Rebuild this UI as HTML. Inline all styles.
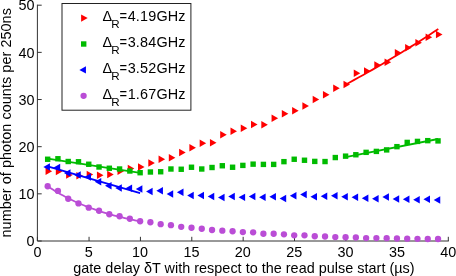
<!DOCTYPE html>
<html><head><meta charset="utf-8"><title>chart</title>
<style>
html,body{margin:0;padding:0;background:#fff;}
svg{display:block;will-change:transform;font-family:"Liberation Sans",sans-serif;fill:#000;}
</style></head><body>
<svg width="456" height="276" viewBox="0 0 456 276">
<rect width="456" height="276" fill="#fff"/>
<path d="M37.4 4.7V241.0H448.8" fill="none" stroke="#333" stroke-width="1"/>
<path d="M37.40 241.0v-4.2" stroke="#333" stroke-width="1"/>
<path d="M89.06 241.0v-4.2" stroke="#333" stroke-width="1"/>
<path d="M140.43 241.0v-4.2" stroke="#333" stroke-width="1"/>
<path d="M191.79 241.0v-4.2" stroke="#333" stroke-width="1"/>
<path d="M243.15 241.0v-4.2" stroke="#333" stroke-width="1"/>
<path d="M294.51 241.0v-4.2" stroke="#333" stroke-width="1"/>
<path d="M345.88 241.0v-4.2" stroke="#333" stroke-width="1"/>
<path d="M397.24 241.0v-4.2" stroke="#333" stroke-width="1"/>
<path d="M448.30 241.0v-4.2" stroke="#333" stroke-width="1"/>
<path d="M37.4 241.00h4.3" stroke="#333" stroke-width="1"/>
<path d="M37.4 193.84h4.3" stroke="#333" stroke-width="1"/>
<path d="M37.4 146.68h4.3" stroke="#333" stroke-width="1"/>
<path d="M37.4 99.52h4.3" stroke="#333" stroke-width="1"/>
<path d="M37.4 52.36h4.3" stroke="#333" stroke-width="1"/>
<path d="M37.4 5.20h4.3" stroke="#333" stroke-width="1"/>

<path d="M45.57 167.55L52.12 171.25L45.57 174.95Z" fill="#ff0000"/>
<path d="M55.84 167.80L62.39 171.50L55.84 175.20Z" fill="#ff0000"/>
<path d="M66.12 171.30L72.67 175.00L66.12 178.70Z" fill="#ff0000"/>
<path d="M76.39 172.05L82.94 175.75L76.39 179.45Z" fill="#ff0000"/>
<path d="M86.66 170.80L93.21 174.50L86.66 178.20Z" fill="#ff0000"/>
<path d="M96.94 171.55L103.48 175.25L96.94 178.95Z" fill="#ff0000"/>
<path d="M107.21 170.80L113.76 174.50L107.21 178.20Z" fill="#ff0000"/>
<path d="M117.48 167.55L124.03 171.25L117.48 174.95Z" fill="#ff0000"/>
<path d="M127.75 164.80L134.30 168.50L127.75 172.20Z" fill="#ff0000"/>
<path d="M138.03 163.30L144.58 167.00L138.03 170.70Z" fill="#ff0000"/>
<path d="M148.30 159.30L154.85 163.00L148.30 166.70Z" fill="#ff0000"/>
<path d="M158.57 155.55L165.12 159.25L158.57 162.95Z" fill="#ff0000"/>
<path d="M168.84 154.05L175.39 157.75L168.84 161.45Z" fill="#ff0000"/>
<path d="M179.12 148.80L185.67 152.50L179.12 156.20Z" fill="#ff0000"/>
<path d="M189.39 144.05L195.94 147.75L189.39 151.45Z" fill="#ff0000"/>
<path d="M199.66 139.55L206.21 143.25L199.66 146.95Z" fill="#ff0000"/>
<path d="M209.93 139.05L216.48 142.75L209.93 146.45Z" fill="#ff0000"/>
<path d="M220.21 131.05L226.76 134.75L220.21 138.45Z" fill="#ff0000"/>
<path d="M230.48 127.55L237.03 131.25L230.48 134.95Z" fill="#ff0000"/>
<path d="M240.75 124.55L247.30 128.25L240.75 131.95Z" fill="#ff0000"/>
<path d="M251.02 120.80L257.57 124.50L251.02 128.20Z" fill="#ff0000"/>
<path d="M261.30 121.05L267.85 124.75L261.30 128.45Z" fill="#ff0000"/>
<path d="M271.57 114.55L278.12 118.25L271.57 121.95Z" fill="#ff0000"/>
<path d="M281.84 110.05L288.39 113.75L281.84 117.45Z" fill="#ff0000"/>
<path d="M292.11 107.05L298.66 110.75L292.11 114.45Z" fill="#ff0000"/>
<path d="M302.38 102.30L308.94 106.00L302.38 109.70Z" fill="#ff0000"/>
<path d="M312.66 95.80L319.21 99.50L312.66 103.20Z" fill="#ff0000"/>
<path d="M322.93 91.05L329.48 94.75L322.93 98.45Z" fill="#ff0000"/>
<path d="M333.20 84.55L339.75 88.25L333.20 91.95Z" fill="#ff0000"/>
<path d="M343.48 80.80L350.03 84.50L343.48 88.20Z" fill="#ff0000"/>
<path d="M353.75 69.55L360.30 73.25L353.75 76.95Z" fill="#ff0000"/>
<path d="M364.02 67.30L370.57 71.00L364.02 74.70Z" fill="#ff0000"/>
<path d="M374.29 61.30L380.84 65.00L374.29 68.70Z" fill="#ff0000"/>
<path d="M384.56 58.55L391.11 62.25L384.56 65.95Z" fill="#ff0000"/>
<path d="M394.84 49.05L401.39 52.75L394.84 56.45Z" fill="#ff0000"/>
<path d="M405.11 44.05L411.66 47.75L405.11 51.45Z" fill="#ff0000"/>
<path d="M415.38 39.05L421.93 42.75L415.38 46.45Z" fill="#ff0000"/>
<path d="M425.65 33.55L432.20 37.25L425.65 40.95Z" fill="#ff0000"/>
<path d="M435.93 30.80L442.48 34.50L435.93 38.20Z" fill="#ff0000"/>
<polyline points="344.40,85.20 349.09,82.67 353.79,80.12 358.48,77.54 363.18,74.92 367.88,72.28 372.57,69.60 377.26,66.89 381.96,64.16 386.65,61.39 391.35,58.60 396.05,55.77 400.74,52.92 405.44,50.04 410.13,47.12 414.82,44.17 419.52,41.20 424.22,38.20 428.91,35.16 433.61,32.10 438.30,29.00" fill="none" stroke="#ff0000" stroke-width="1.8" stroke-linejoin="round"/>
<rect x="44.97" y="156.55" width="5.40" height="5.40" fill="#00bb00"/>
<rect x="55.24" y="156.05" width="5.40" height="5.40" fill="#00bb00"/>
<rect x="65.52" y="158.80" width="5.40" height="5.40" fill="#00bb00"/>
<rect x="75.79" y="159.05" width="5.40" height="5.40" fill="#00bb00"/>
<rect x="86.06" y="161.55" width="5.40" height="5.40" fill="#00bb00"/>
<rect x="96.33" y="164.30" width="5.40" height="5.40" fill="#00bb00"/>
<rect x="106.61" y="165.55" width="5.40" height="5.40" fill="#00bb00"/>
<rect x="116.88" y="166.30" width="5.40" height="5.40" fill="#00bb00"/>
<rect x="127.15" y="168.30" width="5.40" height="5.40" fill="#00bb00"/>
<rect x="137.43" y="170.00" width="5.40" height="5.40" fill="#00bb00"/>
<rect x="147.70" y="169.30" width="5.40" height="5.40" fill="#00bb00"/>
<rect x="157.97" y="169.05" width="5.40" height="5.40" fill="#00bb00"/>
<rect x="168.24" y="166.30" width="5.40" height="5.40" fill="#00bb00"/>
<rect x="178.52" y="166.55" width="5.40" height="5.40" fill="#00bb00"/>
<rect x="188.79" y="164.55" width="5.40" height="5.40" fill="#00bb00"/>
<rect x="199.06" y="166.30" width="5.40" height="5.40" fill="#00bb00"/>
<rect x="209.33" y="164.80" width="5.40" height="5.40" fill="#00bb00"/>
<rect x="219.61" y="163.05" width="5.40" height="5.40" fill="#00bb00"/>
<rect x="229.88" y="164.55" width="5.40" height="5.40" fill="#00bb00"/>
<rect x="240.15" y="162.70" width="5.40" height="5.40" fill="#00bb00"/>
<rect x="250.42" y="161.45" width="5.40" height="5.40" fill="#00bb00"/>
<rect x="260.70" y="161.70" width="5.40" height="5.40" fill="#00bb00"/>
<rect x="270.97" y="161.70" width="5.40" height="5.40" fill="#00bb00"/>
<rect x="281.24" y="158.95" width="5.40" height="5.40" fill="#00bb00"/>
<rect x="291.51" y="156.55" width="5.40" height="5.40" fill="#00bb00"/>
<rect x="301.79" y="157.55" width="5.40" height="5.40" fill="#00bb00"/>
<rect x="312.06" y="158.70" width="5.40" height="5.40" fill="#00bb00"/>
<rect x="322.33" y="158.85" width="5.40" height="5.40" fill="#00bb00"/>
<rect x="332.60" y="154.85" width="5.40" height="5.40" fill="#00bb00"/>
<rect x="342.88" y="153.45" width="5.40" height="5.40" fill="#00bb00"/>
<rect x="353.15" y="152.05" width="5.40" height="5.40" fill="#00bb00"/>
<rect x="363.42" y="149.65" width="5.40" height="5.40" fill="#00bb00"/>
<rect x="373.69" y="148.70" width="5.40" height="5.40" fill="#00bb00"/>
<rect x="383.96" y="147.20" width="5.40" height="5.40" fill="#00bb00"/>
<rect x="394.24" y="143.95" width="5.40" height="5.40" fill="#00bb00"/>
<rect x="404.51" y="139.70" width="5.40" height="5.40" fill="#00bb00"/>
<rect x="414.78" y="138.70" width="5.40" height="5.40" fill="#00bb00"/>
<rect x="425.06" y="137.95" width="5.40" height="5.40" fill="#00bb00"/>
<rect x="435.33" y="138.20" width="5.40" height="5.40" fill="#00bb00"/>
<polyline points="47.67,158.60 140.12,172.90" fill="none" stroke="#00bb00" stroke-width="1.8" stroke-linejoin="round"/>
<polyline points="345.58,157.10 438.03,139.00" fill="none" stroke="#00bb00" stroke-width="1.8" stroke-linejoin="round"/>
<path d="M49.92 163.30L43.37 167.00L49.92 170.70Z" fill="#0000ff"/>
<path d="M60.20 163.80L53.65 167.50L60.20 171.20Z" fill="#0000ff"/>
<path d="M70.47 169.30L63.92 173.00L70.47 176.70Z" fill="#0000ff"/>
<path d="M80.74 171.30L74.19 175.00L80.74 178.70Z" fill="#0000ff"/>
<path d="M91.01 173.30L84.46 177.00L91.01 180.70Z" fill="#0000ff"/>
<path d="M101.28 178.05L94.73 181.75L101.28 185.45Z" fill="#0000ff"/>
<path d="M111.56 182.05L105.01 185.75L111.56 189.45Z" fill="#0000ff"/>
<path d="M121.83 184.30L115.28 188.00L121.83 191.70Z" fill="#0000ff"/>
<path d="M132.10 184.55L125.55 188.25L132.10 191.95Z" fill="#0000ff"/>
<path d="M142.38 185.30L135.82 189.00L142.38 192.70Z" fill="#0000ff"/>
<path d="M152.65 187.80L146.10 191.50L152.65 195.20Z" fill="#0000ff"/>
<path d="M162.92 187.05L156.37 190.75L162.92 194.45Z" fill="#0000ff"/>
<path d="M173.19 190.30L166.64 194.00L173.19 197.70Z" fill="#0000ff"/>
<path d="M183.47 188.55L176.91 192.25L183.47 195.95Z" fill="#0000ff"/>
<path d="M193.74 191.80L187.19 195.50L193.74 199.20Z" fill="#0000ff"/>
<path d="M204.01 191.80L197.46 195.50L204.01 199.20Z" fill="#0000ff"/>
<path d="M214.28 192.80L207.73 196.50L214.28 200.20Z" fill="#0000ff"/>
<path d="M224.56 193.80L218.01 197.50L224.56 201.20Z" fill="#0000ff"/>
<path d="M234.83 192.80L228.28 196.50L234.83 200.20Z" fill="#0000ff"/>
<path d="M245.10 193.65L238.55 197.35L245.10 201.05Z" fill="#0000ff"/>
<path d="M255.37 192.80L248.82 196.50L255.37 200.20Z" fill="#0000ff"/>
<path d="M265.65 193.55L259.10 197.25L265.65 200.95Z" fill="#0000ff"/>
<path d="M275.92 193.05L269.37 196.75L275.92 200.45Z" fill="#0000ff"/>
<path d="M286.19 194.80L279.64 198.50L286.19 202.20Z" fill="#0000ff"/>
<path d="M296.46 192.05L289.91 195.75L296.46 199.45Z" fill="#0000ff"/>
<path d="M306.74 190.80L300.19 194.50L306.74 198.20Z" fill="#0000ff"/>
<path d="M317.01 193.05L310.46 196.75L317.01 200.45Z" fill="#0000ff"/>
<path d="M327.28 192.55L320.73 196.25L327.28 199.95Z" fill="#0000ff"/>
<path d="M337.55 192.05L331.00 195.75L337.55 199.45Z" fill="#0000ff"/>
<path d="M347.83 193.05L341.28 196.75L347.83 200.45Z" fill="#0000ff"/>
<path d="M358.10 193.55L351.55 197.25L358.10 200.95Z" fill="#0000ff"/>
<path d="M368.37 194.55L361.82 198.25L368.37 201.95Z" fill="#0000ff"/>
<path d="M378.64 195.05L372.09 198.75L378.64 202.45Z" fill="#0000ff"/>
<path d="M388.91 193.30L382.36 197.00L388.91 200.70Z" fill="#0000ff"/>
<path d="M399.19 195.30L392.64 199.00L399.19 202.70Z" fill="#0000ff"/>
<path d="M409.46 195.55L402.91 199.25L409.46 202.95Z" fill="#0000ff"/>
<path d="M419.73 196.05L413.18 199.75L419.73 203.45Z" fill="#0000ff"/>
<path d="M430.00 195.55L423.45 199.25L430.00 202.95Z" fill="#0000ff"/>
<path d="M440.28 196.30L433.73 200.00L440.28 203.70Z" fill="#0000ff"/>
<polyline points="47.67,166.30 140.12,193.10" fill="none" stroke="#0000ff" stroke-width="1.8" stroke-linejoin="round"/>
<circle cx="47.67" cy="186.25" r="3.15" fill="#ba4dd6"/>
<circle cx="57.95" cy="190.90" r="3.15" fill="#ba4dd6"/>
<circle cx="68.22" cy="198.75" r="3.15" fill="#ba4dd6"/>
<circle cx="78.49" cy="203.40" r="3.15" fill="#ba4dd6"/>
<circle cx="88.76" cy="207.70" r="3.15" fill="#ba4dd6"/>
<circle cx="99.03" cy="210.75" r="3.15" fill="#ba4dd6"/>
<circle cx="109.31" cy="214.25" r="3.15" fill="#ba4dd6"/>
<circle cx="119.58" cy="216.25" r="3.15" fill="#ba4dd6"/>
<circle cx="129.85" cy="218.75" r="3.15" fill="#ba4dd6"/>
<circle cx="140.12" cy="221.25" r="3.15" fill="#ba4dd6"/>
<circle cx="150.40" cy="222.25" r="3.15" fill="#ba4dd6"/>
<circle cx="160.67" cy="224.15" r="3.15" fill="#ba4dd6"/>
<circle cx="170.94" cy="225.15" r="3.15" fill="#ba4dd6"/>
<circle cx="181.22" cy="226.80" r="3.15" fill="#ba4dd6"/>
<circle cx="191.49" cy="227.75" r="3.15" fill="#ba4dd6"/>
<circle cx="201.76" cy="228.75" r="3.15" fill="#ba4dd6"/>
<circle cx="212.03" cy="230.00" r="3.15" fill="#ba4dd6"/>
<circle cx="222.31" cy="230.70" r="3.15" fill="#ba4dd6"/>
<circle cx="232.58" cy="231.25" r="3.15" fill="#ba4dd6"/>
<circle cx="242.85" cy="232.10" r="3.15" fill="#ba4dd6"/>
<circle cx="253.12" cy="232.35" r="3.15" fill="#ba4dd6"/>
<circle cx="263.40" cy="233.75" r="3.15" fill="#ba4dd6"/>
<circle cx="273.67" cy="233.75" r="3.15" fill="#ba4dd6"/>
<circle cx="283.94" cy="234.30" r="3.15" fill="#ba4dd6"/>
<circle cx="294.21" cy="235.30" r="3.15" fill="#ba4dd6"/>
<circle cx="304.49" cy="235.30" r="3.15" fill="#ba4dd6"/>
<circle cx="314.76" cy="236.25" r="3.15" fill="#ba4dd6"/>
<circle cx="325.03" cy="236.50" r="3.15" fill="#ba4dd6"/>
<circle cx="335.30" cy="237.10" r="3.15" fill="#ba4dd6"/>
<circle cx="345.58" cy="237.25" r="3.15" fill="#ba4dd6"/>
<circle cx="355.85" cy="237.50" r="3.15" fill="#ba4dd6"/>
<circle cx="366.12" cy="238.10" r="3.15" fill="#ba4dd6"/>
<circle cx="376.39" cy="238.10" r="3.15" fill="#ba4dd6"/>
<circle cx="386.66" cy="238.20" r="3.15" fill="#ba4dd6"/>
<circle cx="396.94" cy="238.50" r="3.15" fill="#ba4dd6"/>
<circle cx="407.21" cy="238.70" r="3.15" fill="#ba4dd6"/>
<circle cx="417.48" cy="238.80" r="3.15" fill="#ba4dd6"/>
<circle cx="427.75" cy="239.00" r="3.15" fill="#ba4dd6"/>
<circle cx="438.03" cy="239.00" r="3.15" fill="#ba4dd6"/>
<polyline points="47.67,186.25 50.24,187.95 52.81,189.58 55.38,191.16 57.95,192.69 60.51,194.16 63.08,195.58 65.65,196.95 68.22,198.27 70.79,199.55 73.35,200.78 75.92,201.97 78.49,203.11 81.06,204.22 83.63,205.28 86.19,206.31 88.76,207.31 91.33,208.26 93.90,209.19 96.47,210.08 99.03,210.94 101.60,211.77 104.17,212.57 106.74,213.35 109.31,214.09 111.88,214.81 114.44,215.51 117.01,216.18 119.58,216.83 122.15,217.45 124.72,218.05 127.28,218.64 129.85,219.20 132.42,219.74 134.99,220.26 137.56,220.76 140.12,221.25" fill="none" stroke="#ba4dd6" stroke-width="1.8" stroke-linejoin="round"/>
<rect x="62" y="3.5" width="128.9" height="106.7" fill="#fff" stroke="#222" stroke-width="1"/>
<text transform="translate(102.40 20.60) scale(1.0 1)" text-anchor="start" font-size="14.4">Δ</text>
<text transform="translate(111.20 27.80) scale(1.0 1)" text-anchor="start" font-size="11.6">R</text>
<text transform="translate(119.5 20.60) scale(0.9 1)" font-size="14.4">=</text>
<text transform="translate(127.70 20.60) scale(1.0 1)" letter-spacing="0.17" text-anchor="start" font-size="14.4">4.19GHz</text>
<path d="M81.15 14.40L87.70 18.10L81.15 21.80Z" fill="#ff0000"/>
<text transform="translate(102.40 46.60) scale(1.0 1)" text-anchor="start" font-size="14.4">Δ</text>
<text transform="translate(111.20 53.80) scale(1.0 1)" text-anchor="start" font-size="11.6">R</text>
<text transform="translate(119.5 46.60) scale(0.9 1)" font-size="14.4">=</text>
<text transform="translate(127.70 46.60) scale(1.0 1)" letter-spacing="0.17" text-anchor="start" font-size="14.4">3.84GHz</text>
<rect x="81.00" y="41.30" width="5.40" height="5.40" fill="#00bb00"/>
<text transform="translate(102.40 72.60) scale(1.0 1)" text-anchor="start" font-size="14.4">Δ</text>
<text transform="translate(111.20 79.80) scale(1.0 1)" text-anchor="start" font-size="11.6">R</text>
<text transform="translate(119.5 72.60) scale(0.9 1)" font-size="14.4">=</text>
<text transform="translate(127.70 72.60) scale(1.0 1)" letter-spacing="0.17" text-anchor="start" font-size="14.4">3.52GHz</text>
<path d="M85.95 66.20L79.40 69.90L85.95 73.60Z" fill="#0000ff"/>
<text transform="translate(102.40 98.60) scale(1.0 1)" text-anchor="start" font-size="14.4">Δ</text>
<text transform="translate(111.20 105.80) scale(1.0 1)" text-anchor="start" font-size="11.6">R</text>
<text transform="translate(119.5 98.60) scale(0.9 1)" font-size="14.4">=</text>
<text transform="translate(127.70 98.60) scale(1.0 1)" letter-spacing="0.17" text-anchor="start" font-size="14.4">1.67GHz</text>
<circle cx="83.60" cy="95.80" r="3.15" fill="#ba4dd6"/>
<text transform="translate(37.40 257.40) scale(1.0 1)" text-anchor="middle" font-size="14.4">0</text>
<text transform="translate(88.76 257.40) scale(1.0 1)" text-anchor="middle" font-size="14.4">5</text>
<text transform="translate(140.12 257.40) scale(1.0 1)" text-anchor="middle" font-size="14.4">10</text>
<text transform="translate(191.49 257.40) scale(1.0 1)" text-anchor="middle" font-size="14.4">15</text>
<text transform="translate(242.85 257.40) scale(1.0 1)" text-anchor="middle" font-size="14.4">20</text>
<text transform="translate(294.21 257.40) scale(1.0 1)" text-anchor="middle" font-size="14.4">25</text>
<text transform="translate(345.58 257.40) scale(1.0 1)" text-anchor="middle" font-size="14.4">30</text>
<text transform="translate(396.94 257.40) scale(1.0 1)" text-anchor="middle" font-size="14.4">35</text>
<text transform="translate(448.30 257.40) scale(1.0 1)" text-anchor="middle" font-size="14.4">40</text>
<text transform="translate(34.60 246.20) scale(1.0 1)" text-anchor="end" font-size="14.4">0</text>
<text transform="translate(34.60 199.14) scale(1.0 1)" text-anchor="end" font-size="14.4">10</text>
<text transform="translate(34.60 151.98) scale(1.0 1)" text-anchor="end" font-size="14.4">20</text>
<text transform="translate(34.60 104.82) scale(1.0 1)" text-anchor="end" font-size="14.4">30</text>
<text transform="translate(34.60 57.66) scale(1.0 1)" text-anchor="end" font-size="14.4">40</text>
<text transform="translate(34.60 10.10) scale(1.0 1)" text-anchor="end" font-size="14.4">50</text>
<text transform="translate(243.90 272.60) scale(1.0 1)" textLength="341.4" text-anchor="middle" font-size="14.4">gate delay δT with respect to the read pulse start (µs)</text>
<text transform="translate(11.3 122.8) rotate(-90) scale(1.0 1)" text-anchor="middle" font-size="14.4" textLength="229.4">number of photon counts per 250ns</text>
</svg>
</body></html>
